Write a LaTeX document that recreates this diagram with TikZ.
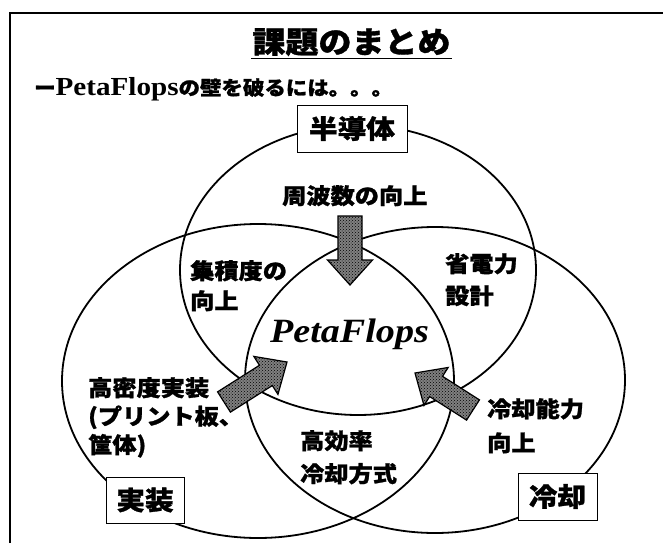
\documentclass[tikz,border=0pt]{standalone}
\usepackage{fontspec}
\usetikzlibrary{calc,patterns}
\newfontfamily\jp{Noto Sans CJK JP}[FakeStretch=1.1, BoldFeatures={FakeBold=1.2}]
\newfontfamily\lat{Liberation Serif}[FakeStretch=1.12]
\newcommand{\fs}[2]{\fontsize{#1}{#2}\selectfont}
\tikzset{
  ell/.style={draw=black, line width=1.8pt},
  frameline/.style={draw=black, line width=1.8pt},
  catbox/.style={draw=black, line width=1pt, fill=white, inner sep=0pt, font=\jp\bfseries\fs{26}{30}},
  lbl/.style={inner sep=0pt, anchor=north west, align=left},
  blk/.style={draw=black, line width=1.2pt, fill=black!50, postaction={pattern=crosshatch dots, pattern color=black}},
}
\newcommand{\blockarrow}[2]{%
  \draw[blk] ($(#1)!12pt!90:(#2)$) -- ($($(#2)!25pt!(#1)$)!12pt!-90:(#1)$)
    -- ($($(#2)!25pt!(#1)$)!22.5pt!-90:(#1)$) -- (#2)
    -- ($($(#2)!25pt!(#1)$)!22.5pt!90:(#1)$) -- ($($(#2)!25pt!(#1)$)!12pt!90:(#1)$)
    -- ($(#1)!12pt!-90:(#2)$) -- cycle;}
\begin{document}
\begin{tikzpicture}[x=1pt,y=-1pt]
\useasboundingbox (0,0) rectangle (663,543);
\fill[white] (0,0) rectangle (663,543);
% frame
\coordinate (fbl) at (10,543);
\coordinate (ftl) at (10,13);
\coordinate (ftr) at (663,13);
\draw[frameline] (fbl) -- (ftl) -- (ftr);
% title
\node[inner sep=0pt, anchor=base, font=\jp\bfseries\fs{30}{36}] (title) at (351.5,53) {課題のまとめ};
\draw[line width=1.8pt] ([yshift=-5.5pt,xshift=-1pt]title.base west) -- ([yshift=-5.5pt,xshift=1pt]title.base east);
% subtitle
\node[inner sep=0pt, anchor=base west] (sub) at (34,95) {\jp\bfseries\fs{19.5}{22}ー{\lat\bfseries\fs{26}{28}PetaFlops}の壁を破るには。。。};
% ellipses
\draw[ell] (358,270) ellipse [x radius=178, y radius=145];
\draw[ell] (258,381) ellipse [x radius=196, y radius=157];
\draw[ell] (435,380) ellipse [x radius=190, y radius=153];
% category boxes
\node[catbox, minimum width=110pt, minimum height=47pt] (semi) at (352,128.5) {半導体};
\node[catbox, minimum width=78pt, minimum height=46pt] (impl) at (145,500) {実装};
\node[catbox, minimum width=79pt, minimum height=47pt] (cool) at (557.5,496.5) {冷却};
% arrows
\coordinate (dnT) at (350,216);
\coordinate (dnH) at (350,285);
\coordinate (lfT) at (224,402);
\coordinate (lfH) at (287,362);
\coordinate (rtT) at (473,410);
\coordinate (rtH) at (415,373);
\blockarrow{dnT}{dnH}
\blockarrow{lfT}{lfH}
\blockarrow{rtT}{rtH}
% center
\node[inner sep=0pt, anchor=base, font=\lat\bfseries\itshape\fs{34}{40}] (peta) at (349.5,342) {PetaFlops};
% labels
\node[lbl, font=\jp\bfseries\fs{22}{30}] (freq) at (282,185) {周波数の向上};
\node[lbl, font=\jp\bfseries\fs{22}{30}] (integ) at (190,260) {集積度の\\向上};
\node[lbl, font=\jp\bfseries\fs{22}{32}] (power) at (445,253) {省電力\\設計};
\node[lbl, font=\jp\bfseries\fs{22}{28.5}] (dense) at (88,377) {高密度実装\\(プリント板、\\筐体)};
\node[lbl, font=\jp\bfseries\fs{22}{33}] (eff) at (300,430) {高効率\\冷却方式};
\node[lbl, font=\jp\bfseries\fs{22}{34}] (capab) at (487,398) {冷却能力\\向上};
\end{tikzpicture}
\end{document}
